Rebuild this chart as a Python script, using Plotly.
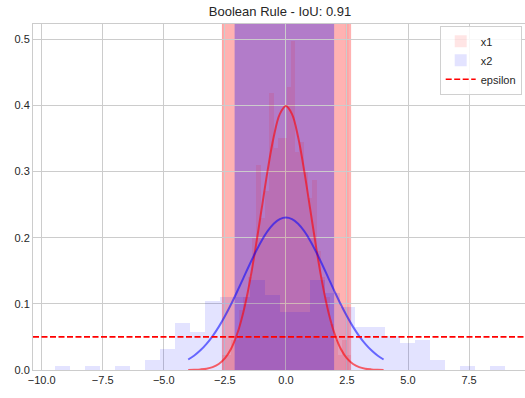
import plotly.graph_objects as go

# ---------------- data ----------------
title_text = "Boolean Rule - IoU: 0.91"

# x2 histogram (density), 30 bins
x2_bin_start = -9.435
x2_bin_width = 0.6135
x2_density = [0.0065, 0.0, 0.0065, 0.0, 0.0065, 0.0, 0.015, 0.032, 0.071, 0.057,
              0.104, 0.110, 0.110, 0.136, 0.113, 0.088, 0.088, 0.136, 0.116, 0.095,
              0.0645, 0.0645, 0.051, 0.041, 0.045, 0.015, 0.0, 0.0065, 0.0, 0.0065]

# x1 histogram (density), 30 bins
x1_bin_start = -2.62
x1_bin_width = 0.1763
x1_density = [0.023, 0.023, 0.045, 0.045, 0.09, 0.11, 0.14, 0.20, 0.31, 0.23,
              0.27, 0.418, 0.335, 0.35, 0.35, 0.428, 0.498, 0.33, 0.345, 0.30,
              0.26, 0.287, 0.18, 0.14, 0.11, 0.07, 0.045, 0.023, 0.045, 0.023]

# curves
curve_x = [-4.0, -3.75, -3.5, -3.25, -3.0, -2.75, -2.5, -2.25, -2.0, -1.75, -1.5, -1.25,
           -1.0, -0.75, -0.5, -0.25, 0.0, 0.25, 0.5, 0.75, 1.0, 1.25, 1.5, 1.75,
           2.0, 2.25, 2.5, 2.75, 3.0, 3.25, 3.5, 3.75, 4.0]
x1_curve = [0.0001, 0.0004, 0.0009, 0.0020, 0.0044, 0.0091, 0.0175, 0.0317, 0.0540,
            0.0863, 0.1295, 0.1826, 0.2420, 0.3011, 0.3521, 0.3867, 0.3989,
            0.3867, 0.3521, 0.3011, 0.2420, 0.1826, 0.1295, 0.0863, 0.0540,
            0.0317, 0.0175, 0.0091, 0.0044, 0.0020, 0.0009, 0.0004, 0.0001]
x2_curve = [0.0159, 0.0220, 0.0298, 0.0395, 0.0513, 0.0652, 0.0812, 0.0990, 0.1182,
            0.1382, 0.1584, 0.1776, 0.1951, 0.2099, 0.2211, 0.2282, 0.2306,
            0.2282, 0.2211, 0.2099, 0.1951, 0.1776, 0.1584, 0.1382, 0.1182,
            0.0990, 0.0812, 0.0652, 0.0513, 0.0395, 0.0298, 0.0220, 0.0159]

# intervals
x1_interval = [-2.62, 2.67]
x1_extra_intervals = [[-2.62, -2.55], [2.44, 2.57]]
x2_interval = [-2.10, 1.975]
epsilon = 0.05

x_tickvals = [-10.0, -7.5, -5.0, -2.5, 0.0, 2.5, 5.0, 7.5]
x_ticktext = ["\u221210.0", "\u22127.5", "\u22125.0", "\u22122.5", "0.0", "2.5", "5.0", "7.5"]
y_tickvals = [0.0, 0.1, 0.2, 0.3, 0.4, 0.5]
y_ticktext = ["0.0", "0.1", "0.2", "0.3", "0.4", "0.5"]

# ---------------- figure ----------------
x2_centers = [x2_bin_start + x2_bin_width * (i + 0.5) for i in range(len(x2_density))]
x1_centers = [x1_bin_start + x1_bin_width * (i + 0.5) for i in range(len(x1_density))]

fig = go.Figure()
fig.add_trace(go.Bar(x=x1_centers, y=x1_density, width=x1_bin_width, name="x1",
                     marker=dict(color="rgba(255,0,0,0.1)", line=dict(width=0))))
fig.add_trace(go.Bar(x=x2_centers, y=x2_density, width=x2_bin_width, name="x2",
                     marker=dict(color="rgba(0,0,255,0.11)", line=dict(width=0))))
fig.add_trace(go.Scatter(x=curve_x, y=x1_curve, mode="lines", showlegend=False,
                         line=dict(color="rgba(255,0,0,0.6)", width=2, shape="spline")))
fig.add_trace(go.Scatter(x=curve_x, y=x2_curve, mode="lines", showlegend=False,
                         line=dict(color="rgba(0,0,255,0.55)", width=2, shape="spline")))

fig.add_shape(type="rect", xref="x", yref="paper", x0=x1_interval[0], x1=x1_interval[1],
              y0=0, y1=1, fillcolor="rgba(255,0,0,0.3)", line=dict(width=0), layer="between")
for a, b in x1_extra_intervals:
    fig.add_shape(type="rect", xref="x", yref="paper", x0=a, x1=b, y0=0, y1=1,
                  fillcolor="rgba(255,0,0,0.08)", line=dict(width=0), layer="between")
fig.add_shape(type="rect", xref="x", yref="paper", x0=x2_interval[0], x1=x2_interval[1],
              y0=0, y1=1, fillcolor="rgba(0,0,255,0.3)", line=dict(width=0), layer="between")
fig.add_shape(type="line", xref="paper", yref="y", x0=0, x1=1, y0=epsilon, y1=epsilon,
              line=dict(color="red", width=1.6, dash="6px,2.5px"), layer="above",
              showlegend=True, name="epsilon")

axis_common = dict(showgrid=True, gridcolor="#cccccc", gridwidth=1, zeroline=False,
                   showline=True, linecolor="#cccccc", linewidth=1, mirror=True,
                   ticks="", tickfont=dict(family="Liberation Sans, Arial", size=11, color="#262626"))

fig.update_layout(
    width=525, height=398,
    margin=dict(l=32.5, r=0, t=24, b=28),
    paper_bgcolor="white", plot_bgcolor="white",
    barmode="overlay", bargap=0,
    title=dict(text=title_text, x=(280 / 525), xanchor="center", y=1 - 11 / 398, yanchor="middle",
               font=dict(family="Liberation Sans, Arial", size=13, color="#262626")),
    xaxis=dict(range=[-10.355, 9.79], tickvals=x_tickvals, ticktext=x_ticktext, **axis_common),
    yaxis=dict(range=[0, 0.523], tickvals=y_tickvals, ticktext=y_ticktext, **axis_common),
    legend=dict(x=0.9933, xanchor="right", y=0.995, yanchor="top",
                bgcolor="rgba(255,255,255,0.85)", bordercolor="#d0d0d0", borderwidth=1,
                font=dict(family="Liberation Sans, Arial", size=11, color="#262626"),
                tracegroupgap=0),
    showlegend=True,
)

fig.write_html("out.html")
